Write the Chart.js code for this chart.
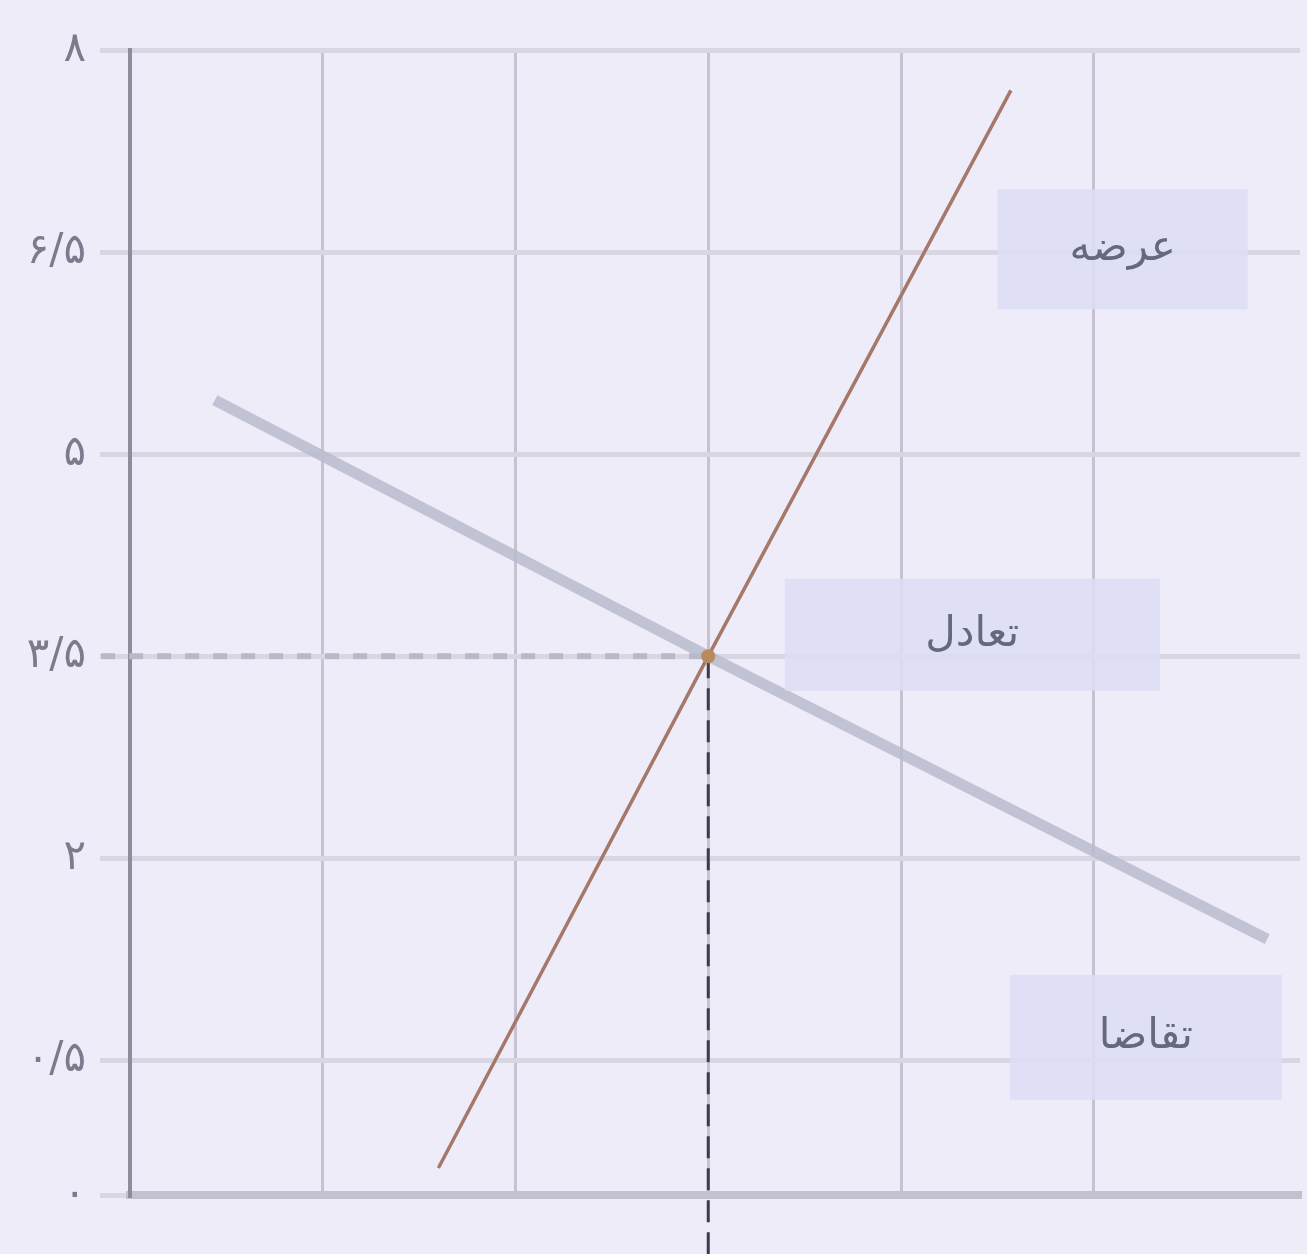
<!DOCTYPE html>
<html lang="fa">
<head>
<meta charset="utf-8">
<script src="https://cdn.jsdelivr.net/npm/chart.js@4/dist/chart.umd.min.js"></script>
<style>
  html,body{margin:0;padding:0;background:#eeecf8;}
  #wrap{width:1307px;height:1254px;}
</style>
</head>
<body>
<div id="wrap"><canvas id="c" width="1307" height="1254"></canvas></div>
<script>
// ---- data ----
const supplyX = [1.6, 3, 4.57];
const supplyY = [-0.3, 3.5, 7.7];
const demandX = [0.44, 3, 5.9];
const demandY = [5.4, 3.5, 1.4];
const equilibrium = {x: 3, y: 3.5};
const yTickValues = [-0.5, 0.5, 2, 3.5, 5, 6.5, 8];
const yTickLabels = ['۰', '۰/۵', '۲', '۳/۵', '۵', '۶/۵', '۸'];
const xTickValues = [0, 1, 2, 3, 4, 5];
const labelTexts = ['عرضه', 'تعادل', 'تقاضا'];

const toPts = (xs, ys) => xs.map((x, i) => ({x, y: ys[i]}));

const bgPlugin = {
  id: 'bg',
  beforeDraw(chart) {
    const ctx = chart.ctx;
    ctx.save();
    ctx.fillStyle = '#eeecf8';
    ctx.fillRect(0, 0, chart.width, chart.height);
    ctx.restore();
  }
};

const boxPlugin = {
  id: 'boxes',
  afterDatasetsDraw(chart, args, opts) {
    const ctx = chart.ctx, xs = chart.scales.x, ys = chart.scales.y;
    ctx.save();
    opts.items.forEach((it, i) => {
      const cx = xs.getPixelForValue(it.x), cy = ys.getPixelForValue(it.y);
      ctx.fillStyle = 'rgba(220,222,244,0.85)';
      ctx.fillRect(cx - it.w / 2, cy - it.h / 2, it.w, it.h);
      ctx.fillStyle = '#66687e';
      ctx.font = '42px "DejaVu Sans"';
      ctx.textAlign = 'center';
      ctx.textBaseline = 'middle';
      ctx.direction = 'rtl';
      ctx.fillText(labelTexts[i], cx, cy);
    });
    ctx.restore();
  }
};

new Chart(document.getElementById('c'), {
  type: 'scatter',
  data: {
    datasets: [
      {
        label: 'عرضه',
        data: toPts(supplyX, supplyY),
        showLine: true,
        borderColor: '#a6786a',
        borderWidth: 3.5,
        pointRadius: 0,
        order: 0
      },
      {
        label: 'تعادل',
        data: [equilibrium],
        pointRadius: 7,
        pointBackgroundColor: '#b88a5c',
        pointBorderWidth: 0,
        order: -1
      },
      {
        label: 'تقاضا',
        data: toPts(demandX, demandY),
        showLine: true,
        borderColor: 'rgba(184,187,206,0.85)',
        borderWidth: 11,
        pointRadius: 0,
        order: 2
      },
      {
        label: 'h',
        data: [{x: -0.15, y: equilibrium.y}, {x: equilibrium.x, y: equilibrium.y}],
        showLine: true,
        borderColor: '#bab7c7',
        borderWidth: 6,
        borderDash: [14, 14],
        pointRadius: 0,
        clip: false,
        order: 3
      },
      {
        label: 'v',
        data: [{x: equilibrium.x, y: equilibrium.y}, {x: equilibrium.x, y: -0.95}],
        showLine: true,
        borderColor: '#3c3c4c',
        borderWidth: 3,
        borderDash: [22, 10],
        pointRadius: 0,
        clip: false,
        order: 1
      }
    ]
  },
  plugins: [bgPlugin, boxPlugin],
  options: {
    responsive: false,
    animation: false,
    layout: {padding: {top: 50, right: 0, bottom: 0, left: 0}},
    plugins: {
      legend: {display: false},
      tooltip: {enabled: false},
      boxes: {
        items: [
          {x: 5.15, y: 6.52, w: 250, h: 120},
          {x: 4.37, y: 3.66, w: 375, h: 112},
          {x: 5.27, y: 0.67, w: 272, h: 125}
        ]
      }
    },
    scales: {
      x: {
        type: 'linear',
        min: 0,
        max: 6.07,
        afterBuildTicks: s => { s.ticks = xTickValues.map(v => ({value: v})); },
        afterFit: s => { s.height = 59; },
        ticks: {display: false},
        grid: {color: '#c6c2d2', lineWidth: 3, tickLength: 0, drawTicks: false},
        border: {color: '#c4c0d0', width: 8}
      },
      y: {
        type: 'linear',
        min: -0.5,
        max: 8,
        afterBuildTicks: s => { s.ticks = yTickValues.map(v => ({value: v})); },
        afterFit: s => { s.width = 130; },
        ticks: {
          color: '#7c7a8c',
          font: {family: '"DejaVu Sans"', size: 42},
          padding: 14,
          callback: (v) => {
            const i = yTickValues.indexOf(v);
            return i >= 0 ? yTickLabels[i] : '';
          }
        },
        grid: {color: '#d9d6e4', lineWidth: 5, tickLength: 30, tickColor: '#d9d6e4'},
        border: {color: '#8f8c9e', width: 4}
      }
    }
  }
});
</script>
</body>
</html>
